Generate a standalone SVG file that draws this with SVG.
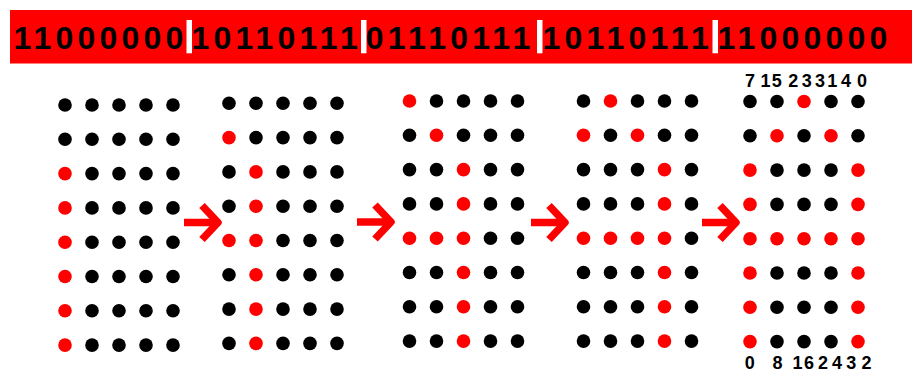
<svg xmlns="http://www.w3.org/2000/svg" width="920" height="372" viewBox="0 0 920 372">
<style>
.bits{font-family:"Liberation Sans",Arial,sans-serif;font-weight:bold;font-size:32px;fill:#000;letter-spacing:4.2px}
.lbl{font-family:"Liberation Sans",Arial,sans-serif;font-weight:bold;font-size:18px;fill:#000;text-anchor:middle}
.grid circle{fill:#000}
.grid circle.r{fill:#f00}
.sep{fill:#fff}
.arrow{fill:none;stroke:#f00;stroke-width:7.5}
</style>
<defs>
<g id="arr"><path d="M0 0H33" class="arrow"/><path d="M18 -17L34 0L18 17" class="arrow" stroke-linejoin="round"/></g>
</defs>
<g id="header">
<rect x="10" y="10" width="902" height="53.5" fill="#f00"/>
<text class="bits" x="13.4" y="48.5">11000000</text>
<text class="bits" x="191.4" y="48.5">10110111</text>
<text class="bits" x="365.7" y="48.5">01110111</text>
<text class="bits" x="542.4" y="48.5">10110111</text>
<text class="bits" x="717.4" y="48.5">11000000</text>
<rect class="sep" x="186.5" y="20" width="5.5" height="33.3"/>
<rect class="sep" x="361" y="20" width="5.5" height="33.3"/>
<rect class="sep" x="537" y="20" width="5.5" height="33.3"/>
<rect class="sep" x="712.5" y="20" width="5.5" height="33.3"/>
</g>
<g id="grid1" class="grid" transform="translate(65,105)">
<circle cx="0" cy="0" r="6.8"/><circle cx="27" cy="0" r="6.8"/><circle cx="54" cy="0" r="6.8"/><circle cx="81" cy="0" r="6.8"/><circle cx="108" cy="0" r="6.8"/>
<circle cx="0" cy="34.3" r="6.8"/><circle cx="27" cy="34.3" r="6.8"/><circle cx="54" cy="34.3" r="6.8"/><circle cx="81" cy="34.3" r="6.8"/><circle cx="108" cy="34.3" r="6.8"/>
<circle class="r" cx="0" cy="68.6" r="6.8"/><circle cx="27" cy="68.6" r="6.8"/><circle cx="54" cy="68.6" r="6.8"/><circle cx="81" cy="68.6" r="6.8"/><circle cx="108" cy="68.6" r="6.8"/>
<circle class="r" cx="0" cy="102.9" r="6.8"/><circle cx="27" cy="102.9" r="6.8"/><circle cx="54" cy="102.9" r="6.8"/><circle cx="81" cy="102.9" r="6.8"/><circle cx="108" cy="102.9" r="6.8"/>
<circle class="r" cx="0" cy="137.2" r="6.8"/><circle cx="27" cy="137.2" r="6.8"/><circle cx="54" cy="137.2" r="6.8"/><circle cx="81" cy="137.2" r="6.8"/><circle cx="108" cy="137.2" r="6.8"/>
<circle class="r" cx="0" cy="171.5" r="6.8"/><circle cx="27" cy="171.5" r="6.8"/><circle cx="54" cy="171.5" r="6.8"/><circle cx="81" cy="171.5" r="6.8"/><circle cx="108" cy="171.5" r="6.8"/>
<circle class="r" cx="0" cy="205.8" r="6.8"/><circle cx="27" cy="205.8" r="6.8"/><circle cx="54" cy="205.8" r="6.8"/><circle cx="81" cy="205.8" r="6.8"/><circle cx="108" cy="205.8" r="6.8"/>
<circle class="r" cx="0" cy="240.1" r="6.8"/><circle cx="27" cy="240.1" r="6.8"/><circle cx="54" cy="240.1" r="6.8"/><circle cx="81" cy="240.1" r="6.8"/><circle cx="108" cy="240.1" r="6.8"/>
</g>
<g id="grid2" class="grid" transform="translate(229,103.3)">
<circle cx="0" cy="0" r="6.8"/><circle cx="27" cy="0" r="6.8"/><circle cx="54" cy="0" r="6.8"/><circle cx="81" cy="0" r="6.8"/><circle cx="108" cy="0" r="6.8"/>
<circle class="r" cx="0" cy="34.3" r="6.8"/><circle cx="27" cy="34.3" r="6.8"/><circle cx="54" cy="34.3" r="6.8"/><circle cx="81" cy="34.3" r="6.8"/><circle cx="108" cy="34.3" r="6.8"/>
<circle cx="0" cy="68.6" r="6.8"/><circle class="r" cx="27" cy="68.6" r="6.8"/><circle cx="54" cy="68.6" r="6.8"/><circle cx="81" cy="68.6" r="6.8"/><circle cx="108" cy="68.6" r="6.8"/>
<circle cx="0" cy="102.9" r="6.8"/><circle class="r" cx="27" cy="102.9" r="6.8"/><circle cx="54" cy="102.9" r="6.8"/><circle cx="81" cy="102.9" r="6.8"/><circle cx="108" cy="102.9" r="6.8"/>
<circle class="r" cx="0" cy="137.2" r="6.8"/><circle class="r" cx="27" cy="137.2" r="6.8"/><circle cx="54" cy="137.2" r="6.8"/><circle cx="81" cy="137.2" r="6.8"/><circle cx="108" cy="137.2" r="6.8"/>
<circle cx="0" cy="171.5" r="6.8"/><circle class="r" cx="27" cy="171.5" r="6.8"/><circle cx="54" cy="171.5" r="6.8"/><circle cx="81" cy="171.5" r="6.8"/><circle cx="108" cy="171.5" r="6.8"/>
<circle cx="0" cy="205.8" r="6.8"/><circle class="r" cx="27" cy="205.8" r="6.8"/><circle cx="54" cy="205.8" r="6.8"/><circle cx="81" cy="205.8" r="6.8"/><circle cx="108" cy="205.8" r="6.8"/>
<circle cx="0" cy="240.1" r="6.8"/><circle class="r" cx="27" cy="240.1" r="6.8"/><circle cx="54" cy="240.1" r="6.8"/><circle cx="81" cy="240.1" r="6.8"/><circle cx="108" cy="240.1" r="6.8"/>
</g>
<g id="grid3" class="grid" transform="translate(409.5,101)">
<circle class="r" cx="0" cy="0" r="6.8"/><circle cx="27" cy="0" r="6.8"/><circle cx="54" cy="0" r="6.8"/><circle cx="81" cy="0" r="6.8"/><circle cx="108" cy="0" r="6.8"/>
<circle cx="0" cy="34.3" r="6.8"/><circle class="r" cx="27" cy="34.3" r="6.8"/><circle cx="54" cy="34.3" r="6.8"/><circle cx="81" cy="34.3" r="6.8"/><circle cx="108" cy="34.3" r="6.8"/>
<circle cx="0" cy="68.6" r="6.8"/><circle cx="27" cy="68.6" r="6.8"/><circle class="r" cx="54" cy="68.6" r="6.8"/><circle cx="81" cy="68.6" r="6.8"/><circle cx="108" cy="68.6" r="6.8"/>
<circle cx="0" cy="102.9" r="6.8"/><circle cx="27" cy="102.9" r="6.8"/><circle class="r" cx="54" cy="102.9" r="6.8"/><circle cx="81" cy="102.9" r="6.8"/><circle cx="108" cy="102.9" r="6.8"/>
<circle class="r" cx="0" cy="137.2" r="6.8"/><circle class="r" cx="27" cy="137.2" r="6.8"/><circle class="r" cx="54" cy="137.2" r="6.8"/><circle cx="81" cy="137.2" r="6.8"/><circle cx="108" cy="137.2" r="6.8"/>
<circle cx="0" cy="171.5" r="6.8"/><circle cx="27" cy="171.5" r="6.8"/><circle class="r" cx="54" cy="171.5" r="6.8"/><circle cx="81" cy="171.5" r="6.8"/><circle cx="108" cy="171.5" r="6.8"/>
<circle cx="0" cy="205.8" r="6.8"/><circle cx="27" cy="205.8" r="6.8"/><circle class="r" cx="54" cy="205.8" r="6.8"/><circle cx="81" cy="205.8" r="6.8"/><circle cx="108" cy="205.8" r="6.8"/>
<circle cx="0" cy="240.1" r="6.8"/><circle cx="27" cy="240.1" r="6.8"/><circle class="r" cx="54" cy="240.1" r="6.8"/><circle cx="81" cy="240.1" r="6.8"/><circle cx="108" cy="240.1" r="6.8"/>
</g>
<g id="grid4" class="grid" transform="translate(583.5,101)">
<circle cx="0" cy="0" r="6.8"/><circle class="r" cx="27" cy="0" r="6.8"/><circle cx="54" cy="0" r="6.8"/><circle cx="81" cy="0" r="6.8"/><circle cx="108" cy="0" r="6.8"/>
<circle class="r" cx="0" cy="34.3" r="6.8"/><circle cx="27" cy="34.3" r="6.8"/><circle class="r" cx="54" cy="34.3" r="6.8"/><circle cx="81" cy="34.3" r="6.8"/><circle cx="108" cy="34.3" r="6.8"/>
<circle cx="0" cy="68.6" r="6.8"/><circle cx="27" cy="68.6" r="6.8"/><circle cx="54" cy="68.6" r="6.8"/><circle class="r" cx="81" cy="68.6" r="6.8"/><circle cx="108" cy="68.6" r="6.8"/>
<circle cx="0" cy="102.9" r="6.8"/><circle cx="27" cy="102.9" r="6.8"/><circle cx="54" cy="102.9" r="6.8"/><circle class="r" cx="81" cy="102.9" r="6.8"/><circle cx="108" cy="102.9" r="6.8"/>
<circle class="r" cx="0" cy="137.2" r="6.8"/><circle class="r" cx="27" cy="137.2" r="6.8"/><circle class="r" cx="54" cy="137.2" r="6.8"/><circle class="r" cx="81" cy="137.2" r="6.8"/><circle cx="108" cy="137.2" r="6.8"/>
<circle cx="0" cy="171.5" r="6.8"/><circle cx="27" cy="171.5" r="6.8"/><circle cx="54" cy="171.5" r="6.8"/><circle class="r" cx="81" cy="171.5" r="6.8"/><circle cx="108" cy="171.5" r="6.8"/>
<circle cx="0" cy="205.8" r="6.8"/><circle cx="27" cy="205.8" r="6.8"/><circle cx="54" cy="205.8" r="6.8"/><circle class="r" cx="81" cy="205.8" r="6.8"/><circle cx="108" cy="205.8" r="6.8"/>
<circle cx="0" cy="240.1" r="6.8"/><circle cx="27" cy="240.1" r="6.8"/><circle cx="54" cy="240.1" r="6.8"/><circle class="r" cx="81" cy="240.1" r="6.8"/><circle cx="108" cy="240.1" r="6.8"/>
</g>
<g id="grid5" class="grid" transform="translate(750,101.5)">
<circle cx="0" cy="0" r="6.8"/><circle cx="27" cy="0" r="6.8"/><circle class="r" cx="54" cy="0" r="6.8"/><circle cx="81" cy="0" r="6.8"/><circle cx="108" cy="0" r="6.8"/>
<circle cx="0" cy="34.3" r="6.8"/><circle class="r" cx="27" cy="34.3" r="6.8"/><circle cx="54" cy="34.3" r="6.8"/><circle class="r" cx="81" cy="34.3" r="6.8"/><circle cx="108" cy="34.3" r="6.8"/>
<circle class="r" cx="0" cy="68.6" r="6.8"/><circle cx="27" cy="68.6" r="6.8"/><circle cx="54" cy="68.6" r="6.8"/><circle cx="81" cy="68.6" r="6.8"/><circle class="r" cx="108" cy="68.6" r="6.8"/>
<circle class="r" cx="0" cy="102.9" r="6.8"/><circle cx="27" cy="102.9" r="6.8"/><circle cx="54" cy="102.9" r="6.8"/><circle cx="81" cy="102.9" r="6.8"/><circle class="r" cx="108" cy="102.9" r="6.8"/>
<circle class="r" cx="0" cy="137.2" r="6.8"/><circle class="r" cx="27" cy="137.2" r="6.8"/><circle class="r" cx="54" cy="137.2" r="6.8"/><circle class="r" cx="81" cy="137.2" r="6.8"/><circle class="r" cx="108" cy="137.2" r="6.8"/>
<circle class="r" cx="0" cy="171.5" r="6.8"/><circle cx="27" cy="171.5" r="6.8"/><circle cx="54" cy="171.5" r="6.8"/><circle cx="81" cy="171.5" r="6.8"/><circle class="r" cx="108" cy="171.5" r="6.8"/>
<circle class="r" cx="0" cy="205.8" r="6.8"/><circle cx="27" cy="205.8" r="6.8"/><circle cx="54" cy="205.8" r="6.8"/><circle cx="81" cy="205.8" r="6.8"/><circle class="r" cx="108" cy="205.8" r="6.8"/>
<circle class="r" cx="0" cy="240.1" r="6.8"/><circle cx="27" cy="240.1" r="6.8"/><circle cx="54" cy="240.1" r="6.8"/><circle cx="81" cy="240.1" r="6.8"/><circle class="r" cx="108" cy="240.1" r="6.8"/>
</g>
<g id="labels">
<text class="lbl" x="750 758 765.5 776.7 785 793.3 806.7 820 832.3 846 862" y="87">7 15 233140</text>
<text class="lbl" x="749.8 763 777.5 787 797.5 809 823 837 851.3 866.5" y="369">0 8 162432</text>
</g>
<g id="connectors">
<use href="#arr" x="184" y="222.5"/>
<use href="#arr" x="357" y="222"/>
<use href="#arr" x="531" y="222.5"/>
<use href="#arr" x="702" y="222.5"/>
</g>
</svg>
